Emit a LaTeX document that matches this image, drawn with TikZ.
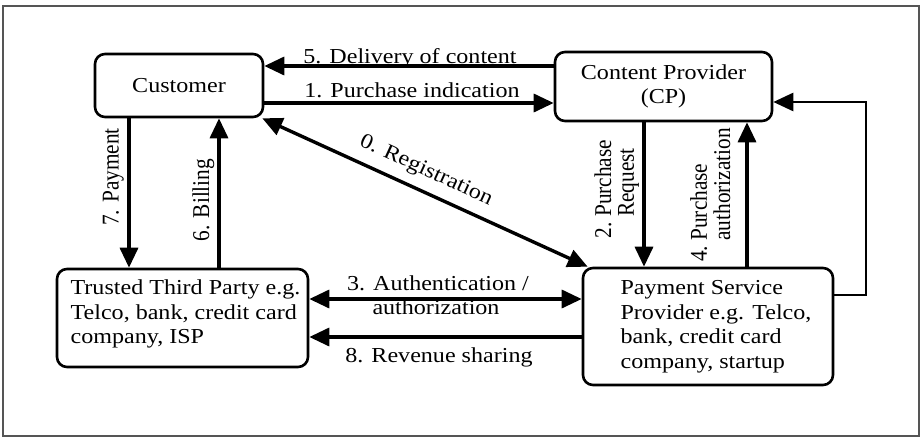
\documentclass[tikz,border=0pt]{standalone}
\usepackage{fontspec}
\setmainfont[FakeStretch=1.13]{Liberation Serif}
\newfontfamily\rotfont{Liberation Serif}
\usetikzlibrary{arrows.meta}
\definecolor{framegray}{RGB}{85,85,85}
\newcommand{\vtxt}[1]{\scalebox{1}[1.13]{\renewcommand{\arraystretch}{1}\begin{tabular}{@{}l@{}}#1\end{tabular}}}
\begin{document}
\begin{tikzpicture}[x=1pt,y=-1pt,
  box/.style={draw, line width=2.6pt, rounded corners=10pt, inner sep=0pt},
  boxtext/.style={inner sep=0pt, align=left, font=\fontsize{21.3}{24.5}\selectfont},
  tip/.tip={Triangle[length=20pt,width=18pt]},
  arr/.style={line width=3.4pt, -tip},
  darr/.style={line width=3.4pt, tip-tip},
  retarr/.style={line width=2.6pt, -tip},
  lbl/.style={inner sep=0pt, font=\fontsize{21.3}{24.5}\selectfont},
  vlbl/.style={inner sep=0pt, rotate=90, font=\rotfont\fontsize{21.3}{19.6}\selectfont},
]
\useasboundingbox (0,0) rectangle (922,437);
\draw[line width=1.3pt, framegray] (3,6) rectangle (919,436);

% boxes
\node[box, minimum width=168pt, minimum height=63pt, font=\fontsize{21.3}{24.5}\selectfont] (cust) at (179,85.5) {Customer};
\node[box, minimum width=217pt, minimum height=69pt, align=center, font=\fontsize{21.3}{24.5}\selectfont] (cp) at (663.5,86.5) {Content Provider\\(CP)};
\node[box, minimum width=251pt, minimum height=98pt,
      label={[boxtext, xshift=3pt, yshift=4pt]center:{Trusted Third Party e.g.\\Telco, bank, credit card\\company, ISP}}] (ttp) at (182.5,318) {};
\node[box, minimum width=250pt, minimum height=117pt,
      label={[boxtext, xshift=8pt]center:{Payment Service\\Provider e.g. Telco,\\bank, credit card\\company, startup}}] (psp) at (708,326.5) {};

% helper coordinates
\coordinate (y5) at (0,66);
\coordinate (y1) at (0,103);
\coordinate (x7) at (129,0);
\coordinate (x6) at (219,0);
\coordinate (x2) at (644,0);
\coordinate (x4) at (747,0);
\coordinate (y3) at (0,299);
\coordinate (y8) at (0,337);
\coordinate (yr) at (0,295);
\coordinate (yr2) at (0,102);
\coordinate (xr) at (866,0);

% connectors
\draw[arr] (cp.west |- y5) -- (cust.east |- y5);
\draw[arr] (cust.east |- y1) -- (cp.west |- y1);
\draw[darr] ([xshift=-2pt]cust.south east) -- ([xshift=6pt]psp.north west);
\draw[arr] (cp.south -| x2) -- (psp.north -| x2);
\draw[arr] (psp.north -| x4) -- (cp.south -| x4);
\draw[arr] (cust.south -| x7) -- (ttp.north -| x7);
\draw[arr] (ttp.north -| x6) -- (cust.south -| x6);
\draw[darr] (ttp.east |- y3) -- (psp.west |- y3);
\draw[arr] (psp.west |- y8) -- (ttp.east |- y8);
\draw[retarr] (psp.east |- yr) -| (xr |- yr2) -- (cp.east |- yr2);

% labels
\node[lbl, anchor=base] (l5) at (410,63) {5. Delivery of content};
\node[lbl, anchor=base] (l1) at (412,97) {1. Purchase indication};
\node[lbl, rotate=-24.6] (l0) at (426,171) {0. Registration};
\node[vlbl] (l7) at (114,177) {\vtxt{7. Payment}};
\node[vlbl] (l6) at (204,200) {\vtxt{6. Billing}};
\node[vlbl] (l2) at (617.5,189) {\vtxt{2.~Purchase\\\phantom{2.~}Request}};
\node[vlbl] (l4) at (713.5,195) {\vtxt{4.~Purchase\\\phantom{4.~}authorization}};
\node[lbl, anchor=base] (l3a) at (438,290) {3. Authentication /};
\node[lbl, anchor=base] (l3b) at (436,314) {authorization};
\node[lbl, anchor=base] (l8) at (439,362) {8. Revenue sharing};
\end{tikzpicture}
\end{document}
